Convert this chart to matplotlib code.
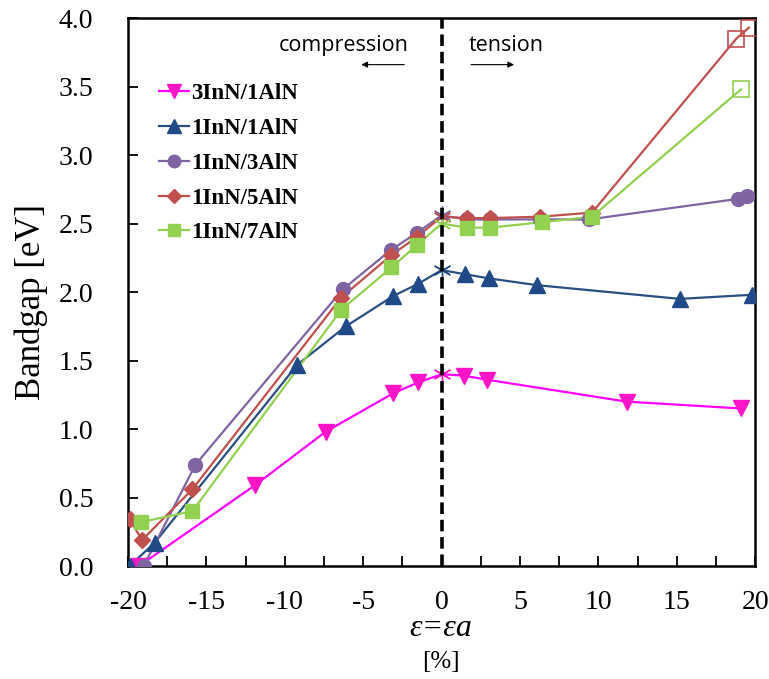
import numpy as np
import matplotlib
matplotlib.use("Agg")
import matplotlib.pyplot as plt
from matplotlib.ticker import MultipleLocator, FormatStrFormatter

# strain (%) and bandgap (eV) per superlattice
labels = ["3InN/1AlN", "1InN/1AlN", "1InN/3AlN", "1InN/5AlN", "1InN/7AlN"]

x_31 = [-19.3, -11.9, -7.4, -3.1, -1.5, 0.0, 1.4, 2.9, 11.8, 19.1]
y_31 = [0.00, 0.59, 0.98, 1.26, 1.34, 1.40, 1.39, 1.36, 1.20, 1.15]

x_11 = [-19.9, -18.3, -9.2, -6.1, -3.1, -1.5, 0.0, 1.5, 3.0, 6.1, 15.2, 19.8]
y_11 = [0.00, 0.17, 1.47, 1.75, 1.97, 2.06, 2.16, 2.13, 2.10, 2.05, 1.95, 1.98]

x_13 = [-19.0, -15.7, -6.3, -3.2, -1.6, 0.0, 1.6, 3.1, 6.3, 9.4, 18.9, 19.5]
y_13 = [0.00, 0.74, 2.02, 2.31, 2.43, 2.56, 2.53, 2.53, 2.53, 2.53, 2.68, 2.70]

x_15 = [-19.9, -19.1, -15.9, -6.4, -3.2, -1.6, 0.0, 1.6, 3.1, 6.3, 9.6, 18.8, 19.6]
y_15 = [0.34, 0.19, 0.56, 1.96, 2.27, 2.40, 2.55, 2.54, 2.54, 2.55, 2.58, 3.85, 3.93]

x_17 = [-19.2, -15.9, -6.4, -3.2, -1.6, 0.0, 1.6, 3.1, 6.4, 9.6, 19.1]
y_17 = [0.32, 0.40, 1.87, 2.18, 2.34, 2.50, 2.47, 2.47, 2.51, 2.55, 3.48]

series = [(x_31, y_31), (x_11, y_11), (x_13, y_13), (x_15, y_15), (x_17, y_17)]
colors = ["#ff14c8", "#1f4a87", "#8064a2", "#c0504d", "#92d050"]
line_colors = ["#ff00ff", "#2a4f82", "#8064a2", "#c0504d", "#92d050"]
markers = ["v", "^", "o", "D", "s"]
msizes = [11, 11, 10, 8, 10]
n_open = [0, 0, 0, 2, 1]   # trailing points drawn as open squares

plt.rcParams["font.family"] = ["Liberation Serif", "DejaVu Serif"]
plt.rcParams["axes.unicode_minus"] = False

fig = plt.figure(figsize=(7.69, 6.79), dpi=100)
ax = fig.add_axes([0.1665, 0.1664, 0.8155, 0.807])

for (xs, ys), c, lc, m, ms, no, lab in zip(series, colors, line_colors,
                                            markers, msizes, n_open, labels):
    xs = np.array(xs)
    ys = np.array(ys)
    ax.plot(xs, ys, color=lc, lw=1.6, zorder=2)
    zero = xs == 0
    filled = ~zero
    if no:
        filled[-no:] = False
        ax.plot(xs[-no:], ys[-no:], ls="none", marker="s", ms=12,
                mfc="none", mec=c, mew=1.2, zorder=3)
    ax.plot(xs[filled], ys[filled], ls="none", marker=m, ms=ms,
            color=c, zorder=3)
    ax.plot(xs[zero], ys[zero], ls="none", marker=(6, 2, 0), ms=13,
            color=c, mew=1.0, zorder=3)
    # legend handle
    ax.plot([], [], color=lc, lw=1.6, marker=m, ms=ms - 1, mfc=c, mec=c,
            label=lab)

ax.axvline(0, color="black", lw=2.6, ls=(0, (3.2, 1.6)), zorder=4)

ax.set_xlim(-20, 20)
ax.set_ylim(0, 4.0)
ax.xaxis.set_major_locator(MultipleLocator(5))
ax.xaxis.set_minor_locator(MultipleLocator(2.5))
ax.yaxis.set_major_locator(MultipleLocator(0.5))
ax.yaxis.set_major_formatter(FormatStrFormatter("%.1f"))
ax.tick_params(which="both", direction="in", length=7, width=1.3,
               labelsize=20)
ax.tick_params(axis="x", pad=17)
ax.tick_params(axis="y", pad=25)
for s in ax.spines.values():
    s.set_linewidth(1.8)

ax.text(-2.1, 3.80, "compression", fontsize=15.5, family="Open Sans",
        ha="right", va="center")
ax.text(1.7, 3.80, "tension", fontsize=15.5, family="Open Sans",
        ha="left", va="center")
ax.annotate("", xy=(-5.3, 3.66), xytext=(-2.2, 3.66),
            arrowprops=dict(arrowstyle="-|>", color="black", lw=0.8,
                            mutation_scale=9))
ax.annotate("", xy=(4.8, 3.66), xytext=(1.7, 3.66),
            arrowprops=dict(arrowstyle="-|>", color="black", lw=0.8,
                            mutation_scale=9))

ax.legend(loc="upper left", bbox_to_anchor=(0.035, 0.898), frameon=False,
          prop={"weight": "bold", "size": 16.5}, handlelength=1.3,
          handletextpad=0.1, labelspacing=0.6, borderaxespad=0)

fig.text(0.04, 0.555, "Bandgap [eV]", rotation=90, fontsize=25,
         ha="center", va="center")
fig.text(0.573, 0.074, "ε=εa", fontsize=23, style="italic",
         ha="center", va="center")
fig.text(0.573, 0.025, "[%]", fontsize=18, ha="center", va="center")

fig.savefig("out.png", dpi=100)
